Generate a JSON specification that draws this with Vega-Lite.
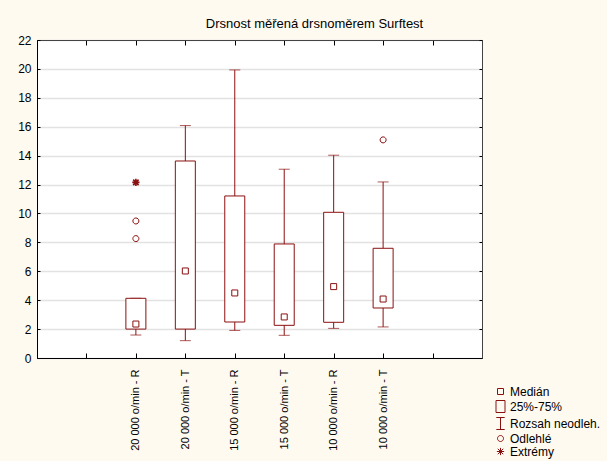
{
  "$schema": "https://vega.github.io/schema/vega-lite/v6.json",
  "width": 445,
  "height": 318,
  "autosize": {"type": "none"},
  "padding": {"left": 37, "top": 40, "right": 125, "bottom": 103},
  "background": "#fffaf0",
  "title": {
    "text": "Drsnost měřená drsnoměrem Surftest",
    "fontSize": 13,
    "fontWeight": "normal",
    "color": "black",
    "anchor": "middle",
    "dx": 55,
    "offset": -7,
    "baseline": "alphabetic",
    "font": "Liberation Sans"
  },
  "config": {
    "font": "Liberation Sans",
    "view": {"stroke": "#444444", "fill": "white"},
    "axis": {"labelColor": "black", "labelFontSize": 11, "title": null}
  },
  "datasets": {
    "boxes": [
      {"kategorie": "20 000 o/min - R", "min": 1.59, "q1": 2.0, "q3": 4.13, "max": 4.13},
      {"kategorie": "20 000 o/min - T", "min": 1.2, "q1": 2.0, "q3": 13.63, "max": 16.08},
      {"kategorie": "15 000 o/min - R", "min": 1.91, "q1": 2.49, "q3": 11.21, "max": 19.93},
      {"kategorie": "15 000 o/min - T", "min": 1.57, "q1": 2.26, "q3": 7.89, "max": 13.06},
      {"kategorie": "10 000 o/min - R", "min": 2.05, "q1": 2.47, "q3": 10.08, "max": 14.03},
      {"kategorie": "10 000 o/min - T", "min": 2.15, "q1": 3.46, "q3": 7.59, "max": 12.18}
    ],
    "points": [
      {"kategorie": "20 000 o/min - R", "hodnota": 2.35, "typ": "Medián"},
      {"kategorie": "20 000 o/min - T", "hodnota": 6.02, "typ": "Medián"},
      {"kategorie": "15 000 o/min - R", "hodnota": 4.5, "typ": "Medián"},
      {"kategorie": "15 000 o/min - T", "hodnota": 2.84, "typ": "Medián"},
      {"kategorie": "10 000 o/min - R", "hodnota": 4.94, "typ": "Medián"},
      {"kategorie": "10 000 o/min - T", "hodnota": 4.08, "typ": "Medián"},
      {"kategorie": "20 000 o/min - R", "hodnota": 9.48, "typ": "Odlehlé"},
      {"kategorie": "20 000 o/min - R", "hodnota": 8.26, "typ": "Odlehlé"},
      {"kategorie": "10 000 o/min - T", "hodnota": 15.09, "typ": "Odlehlé"},
      {"kategorie": "20 000 o/min - R", "hodnota": 12.15, "typ": "Extrémy"}
    ]
  },
  "resolve": {"axis": {"x": "independent", "y": "independent"}},
  "layer": [
    {
      "data": {"name": "boxes"},
      "mark": {"type": "rule", "color": "#8b1010", "strokeWidth": 1},
      "encoding": {
        "x": {
          "field": "kategorie", "type": "nominal",
          "scale": {"type": "point", "padding": 0, "domain": ["p1", "p2", "20 000 o/min - R", "20 000 o/min - T", "15 000 o/min - R", "15 000 o/min - T", "10 000 o/min - R", "10 000 o/min - T", "p3", "p4"]},
          "axis": {"orient": "bottom", "labelExpr": "indexof(datum.label, 'o/min') >= 0 ? datum.label : ''", "labelAngle": -90, "tickSize": -5, "labelPadding": 16, "domainColor": "black", "tickColor": "black", "grid": false}
        },
        "y": {
          "field": "min", "type": "quantitative",
          "scale": {"domain": [0, 22], "nice": false},
          "axis": {"orient": "left", "values": [0, 2, 4, 6, 8, 10, 12, 14, 16, 18, 20, 22], "tickSize": -3, "labelPadding": 9, "labelFontSize": 12, "grid": true, "gridColor": "#e2e2e2", "gridWidth": 1.5, "domainColor": "black", "tickColor": "black"}
        },
        "y2": {"field": "max"}
      }
    },
    {
      "data": {"name": "boxes"},
      "mark": {"type": "tick", "color": "#8b1010", "size": 11, "thickness": 1},
      "encoding": {
        "x": {
          "field": "kategorie", "type": "nominal",
          "scale": {"type": "point", "padding": 0, "domain": ["p1", "p2", "20 000 o/min - R", "20 000 o/min - T", "15 000 o/min - R", "15 000 o/min - T", "10 000 o/min - R", "10 000 o/min - T", "p3", "p4"]},
          "axis": {"orient": "top", "labels": false, "tickSize": -5, "domainColor": "#444444", "tickColor": "black", "grid": false}
        },
        "y": {
          "field": "min", "type": "quantitative",
          "scale": {"domain": [0, 22], "nice": false},
          "axis": {"orient": "right", "labels": false, "values": [0, 2, 4, 6, 8, 10, 12, 14, 16, 18, 20, 22], "tickSize": -3, "grid": false, "domainColor": "#444444", "tickColor": "black"}
        }
      }
    },
    {
      "data": {"name": "boxes"},
      "mark": {"type": "tick", "color": "#8b1010", "size": 11, "thickness": 1},
      "encoding": {
        "x": {"field": "kategorie", "type": "nominal", "axis": null},
        "y": {"field": "max", "type": "quantitative", "axis": null}
      }
    },
    {
      "data": {"name": "boxes"},
      "mark": {"type": "bar", "fill": "white", "stroke": "#8b1010", "strokeWidth": 1, "size": 20},
      "encoding": {
        "x": {"field": "kategorie", "type": "nominal", "axis": null},
        "y": {"field": "q1", "type": "quantitative", "axis": null},
        "y2": {"field": "q3"}
      }
    },
    {
      "data": {"name": "points"},
      "mark": {"type": "point", "filled": false, "color": "#8b1010", "size": 144, "opacity": 1},
      "encoding": {
        "x": {"field": "kategorie", "type": "nominal", "axis": null},
        "y": {"field": "hodnota", "type": "quantitative", "axis": null},
        "strokeWidth": {"condition": {"test": "datum.typ === 'Extrémy'", "value": 1.6}, "value": 1},
        "shape": {
          "field": "typ", "type": "nominal",
          "scale": {
            "domain": ["Medián", "25%-75%", "Rozsah neodleh.", "Odlehlé", "Extrémy"],
            "range": [
              "M-0.5,-0.5L0.5,-0.5L0.5,0.5L-0.5,0.5Z",
              "M-0.75,-1L0.75,-1L0.75,1L-0.75,1Z",
              "M-0.7,-1L0.7,-1M0,-1L0,1M-0.7,1L0.7,1",
              "M0.5,0A0.5,0.5,0,1,1,-0.5,0A0.5,0.5,0,1,1,0.5,0Z",
              "M-0.6,0L0.6,0M0,-0.6L0,0.6M-0.45,-0.45L0.45,0.45M-0.45,0.45L0.45,-0.45"
            ]
          },
          "legend": {
            "orient": "none", "legendX": 457, "legendY": 345, "title": null,
            "symbolSize": 144, "symbolStrokeColor": "#8b1010", "symbolFillColor": "transparent",
            "symbolStrokeWidth": 1, "symbolOpacity": 1,
            "labelFontSize": 12, "labelColor": "black", "labelOffset": 3, "rowPadding": 0, "padding": 0
          }
        }
      }
    }
  ]
}
